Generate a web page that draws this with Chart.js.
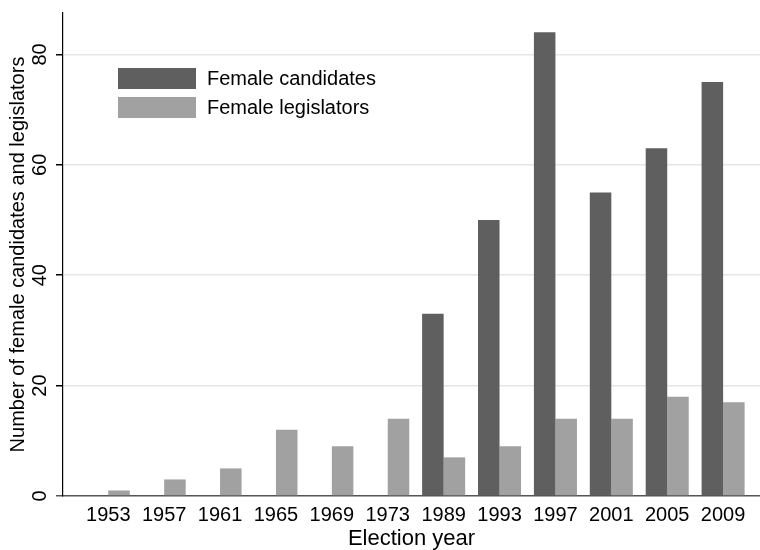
<!DOCTYPE html>
<html>
<head>
<meta charset="utf-8">
<script src="https://cdn.jsdelivr.net/npm/chart.js@4"></script>
<style>
  html, body { margin: 0; padding: 0; background: #fff; }
  #wrap { width: 760px; height: 550px; }
</style>
</head>
<body>
<div id="wrap"><canvas id="chart"></canvas></div>
<script>
// data
const years = ['1953', '1957', '1961', '1965', '1969', '1973', '1989', '1993', '1997', '2001', '2005', '2009'];
const candidates = [0, 0, 0, 0, 0, 0, 33, 50, 84, 55, 63, 75];
const legislators = [1, 3, 5, 12, 9, 14, 7, 9, 14, 14, 18, 17];
const yTicks = [0, 20, 40, 60, 80];

const FONT = "'Liberation Sans', Arial, Helvetica, sans-serif";

// y tick labels drawn rotated (reading upward), like the Stata original
const yLabels = {
    id: 'yLabels',
    afterDraw(chart) {
        const ctx = chart.ctx;
        const y = chart.scales.y;
        ctx.save();
        ctx.fillStyle = '#000';
        ctx.font = '20px ' + FONT;
        ctx.textAlign = 'center';
        ctx.textBaseline = 'middle';
        yTicks.forEach(v => {
            ctx.save();
            ctx.translate(40, y.getPixelForValue(v));
            ctx.rotate(-Math.PI / 2);
            ctx.fillText(String(v), 0, 0);
            ctx.restore();
        });
        ctx.restore();
    }
};

// legend inside the plot, upper left
const innerLegend = {
    id: 'innerLegend',
    afterDraw(chart) {
        const ctx = chart.ctx;
        ctx.save();
        ctx.font = '20px ' + FONT;
        ctx.textBaseline = 'middle';
        chart.data.datasets.forEach((ds, i) => {
            const top = 68 + i * 29;
            ctx.fillStyle = ds.backgroundColor;
            ctx.fillRect(118, top, 78, 21);
            ctx.fillStyle = '#000';
            ctx.fillText(ds.label, 207, top + 11);
        });
        ctx.restore();
    }
};

new Chart(document.getElementById('chart'), {
    type: 'bar',
    data: {
        datasets: [{
            label: 'Female candidates',
            data: years.map((yr, i) => ({ x: i, y: candidates[i] })),
            backgroundColor: '#5f5f5f',
            borderWidth: 0,
            categoryPercentage: 0.77,
            barPercentage: 1.0,
        }, {
            label: 'Female legislators',
            data: years.map((yr, i) => ({ x: i, y: legislators[i] })),
            backgroundColor: '#a1a1a1',
            borderWidth: 0,
            categoryPercentage: 0.77,
            barPercentage: 1.0,
        }]
    },
    options: {
        responsive: true,
        maintainAspectRatio: false,
        animation: false,
        layout: { padding: { top: 13, right: 0, bottom: 0, left: 0 } },
        plugins: {
            legend: { display: false },
            tooltip: { enabled: false }
        },
        scales: {
            x: {
                type: 'linear',
                offset: false,
                min: -0.81,
                max: 11.66,
                afterFit: (s) => { s.height = 54; },
                afterBuildTicks: (s) => { s.ticks = years.map((yr, i) => ({ value: i })); },
                grid: { display: false, drawTicks: false, tickLength: 0 },
                border: { display: true, color: '#555', width: 1.5 },
                ticks: {
                    autoSkip: false,
                    maxRotation: 0,
                    padding: 7,
                    color: '#000',
                    font: { family: FONT, size: 20 },
                    callback: (v) => years[v]
                },
                title: {
                    display: true,
                    text: 'Election year',
                    color: '#000',
                    font: { family: FONT, size: 22, lineHeight: 1 },
                    padding: 0
                }
            },
            y: {
                min: 0,
                max: 87.5,
                afterFit: (s) => { s.width = 63; },
                afterBuildTicks: (s) => { s.ticks = yTicks.map(v => ({ value: v })); },
                grid: {
                    color: (c) => c.tick && c.tick.value === 0 ? 'rgba(0,0,0,0)' : '#e6e6e6',
                    lineWidth: 1.5,
                    tickColor: (c) => c.tick && c.tick.value === 0 ? '#555' : '#000',
                    tickLength: 7,
                    drawTicks: true
                },
                border: { display: true, color: '#000', width: 1.2 },
                ticks: { display: false },
                title: {
                    display: true,
                    text: 'Number of female candidates and legislators',
                    color: '#000',
                    font: { family: FONT, size: 20, lineHeight: 1 },
                    padding: { top: 8, bottom: 0 }
                }
            }
        }
    },
    plugins: [yLabels, innerLegend]
});
</script>
</body>
</html>
